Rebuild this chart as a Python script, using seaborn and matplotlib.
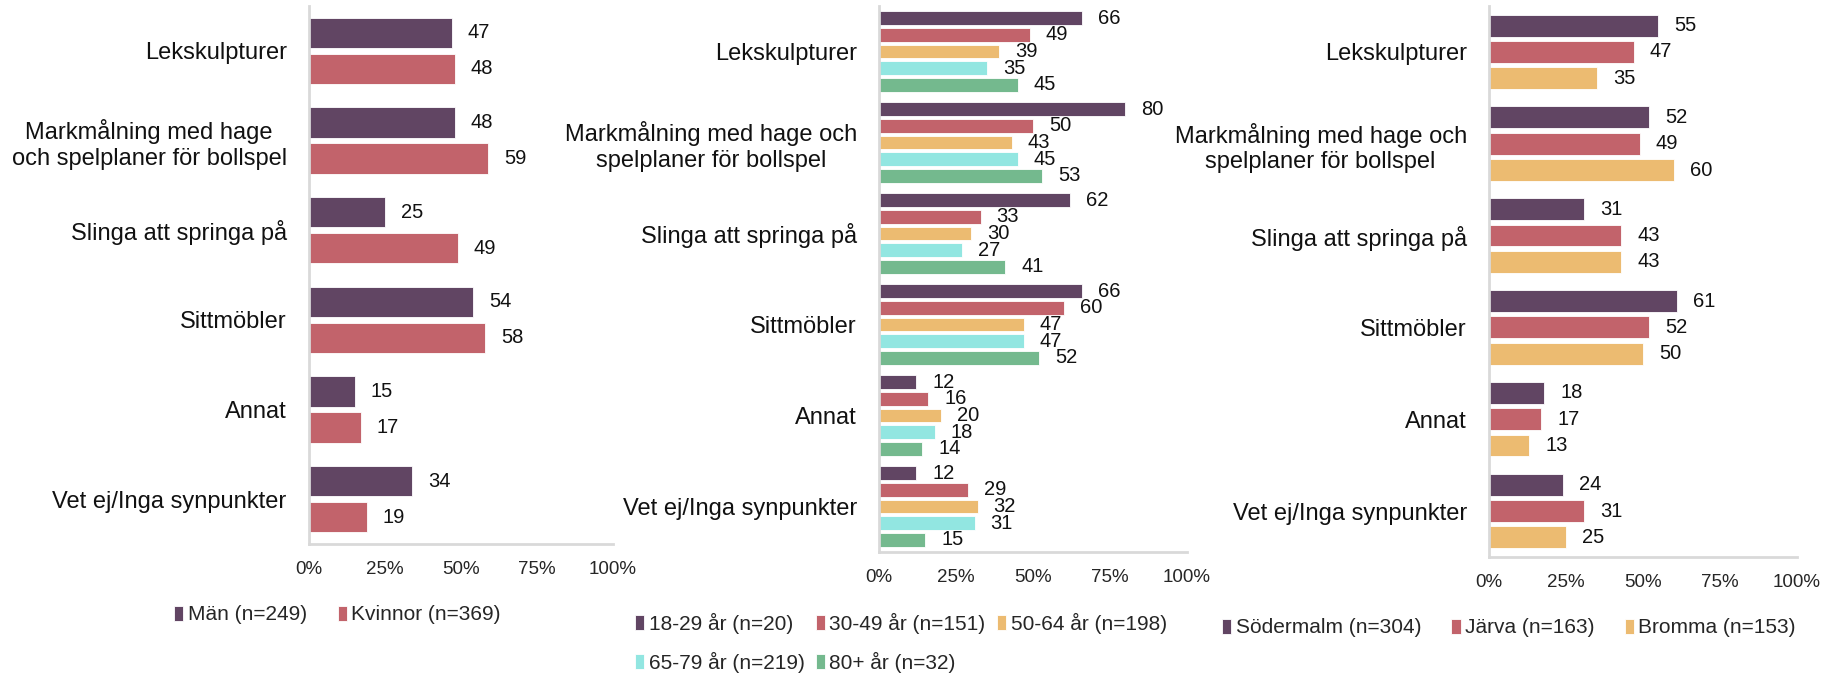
import numpy as np
import pandas as pd
import matplotlib
matplotlib.use('Agg')
import matplotlib.pyplot as plt
import seaborn as sns

# answer categories (same order in all three panels)
cats_1 = ['Lekskulpturer', 'Markmålning med hage\noch spelplaner för bollspel',
          'Slinga att springa på', 'Sittmöbler', 'Annat', 'Vet ej/Inga synpunkter']
cats_2 = ['Lekskulpturer', 'Markmålning med hage och\nspelplaner för bollspel',
          'Slinga att springa på', 'Sittmöbler', 'Annat', 'Vet ej/Inga synpunkter']

# panel 1 - gender
gender_groups = ['Män (n=249)', 'Kvinnor (n=369)']
man = [47, 48, 25, 54, 15, 34]
kvinnor = [48, 59, 49, 58, 17, 19]

# panel 2 - age
age_groups = ['18-29 år (n=20)', '30-49 år (n=151)', '50-64 år (n=198)',
              '65-79 år (n=219)', '80+ år (n=32)']
age_18_29 = [66, 80, 62, 66, 12, 12]
age_30_49 = [49, 50, 33, 60, 16, 29]
age_50_64 = [39, 43, 30, 47, 20, 32]
age_65_79 = [35, 45, 27, 47, 18, 31]
age_80 = [45, 53, 41, 52, 14, 15]

# panel 3 - district
area_groups = ['Södermalm (n=304)', 'Järva (n=163)', 'Bromma (n=153)']
sodermalm = [55, 52, 31, 61, 18, 24]
jarva = [47, 49, 43, 52, 17, 31]
bromma = [35, 60, 43, 50, 13, 25]

colors = ['#614563', '#c2636b', '#ecbb71', '#92e6e1', '#74b98e']


def long_df(cats, groups, series):
    rows = []
    for g, vals in zip(groups, series):
        for c, v in zip(cats, vals):
            rows.append({'cat': c, 'group': g, 'value': v})
    return pd.DataFrame(rows)


def row_major(items, ncol):
    # matplotlib fills legend columns first; reorder so entries read row by row
    nrow = int(np.ceil(len(items) / ncol))
    out = []
    for c in range(ncol):
        for r in range(nrow):
            i = r * ncol + c
            if i < len(items):
                out.append(items[i])
    return out


sns.set_style('white')
plt.rcParams['font.family'] = ['Liberation Sans', 'DejaVu Sans']

fig = plt.figure(figsize=(18.41, 6.73), dpi=100)

panels = [
    (cats_1, gender_groups, [man, kvinnor], [0.1678, 0.1917, 0.1651, 0.7994], 0.8, 0.15,
     (0.0945, 0.0862), 2, 1.5),
    (cats_2, age_groups, [age_18_29, age_30_49, age_50_64, age_65_79, age_80],
     [0.4775, 0.1798, 0.1673, 0.8113], 0.91, 0.16, (0.3449, 0.0446), 3, 0.55),
    (cats_2, area_groups, [sodermalm, jarva, bromma], [0.8088, 0.1724, 0.1673, 0.8187], 0.86, 0.17,
     (0.6638, 0.0669), 3, 1.45),
]

for cats, groups, series, pos, w, gap, leg_xy, ncol, colsp in panels:
    ax = fig.add_axes(pos)
    df = long_df(cats, groups, series)
    sns.barplot(data=df, y='cat', x='value', hue='group', orient='h',
                palette=colors[:len(groups)], saturation=1, width=w, gap=gap,
                edgecolor='white', linewidth=0.6, ax=ax)
    for cont in ax.containers:
        ax.bar_label(cont, fmt='%d', padding=11.5, fontsize=14.5, color='#111111')
    ax.set_xlim(0, 100)
    ax.set_xticks([0, 25, 50, 75, 100])
    ax.set_xticklabels(['0%', '25%', '50%', '75%', '100%'])
    ax.set_xlabel('')
    ax.set_ylabel('')
    ax.tick_params(axis='x', length=0, pad=12, labelsize=13.5, labelcolor='#262626')
    ax.tick_params(axis='y', length=0, pad=16, labelsize=17, labelcolor='#111111')
    for t in ax.get_yticklabels():
        t.set_multialignment('center')
    for s in ['top', 'right']:
        ax.spines[s].set_visible(False)
    for s in ['left', 'bottom']:
        ax.spines[s].set_color('#d9d9d9')
        ax.spines[s].set_linewidth(2)
    handles, labels = ax.get_legend_handles_labels()
    if ax.get_legend() is not None:
        ax.get_legend().remove()
    fig.legend(row_major(handles, ncol), row_major(labels, ncol), loc='center left',
               bbox_to_anchor=leg_xy, bbox_transform=fig.transFigure, ncol=ncol,
               frameon=False, fontsize=15, handlelength=0.45, handleheight=0.75,
               handletextpad=0.2, columnspacing=colsp, labelspacing=0.85,
               borderpad=0, borderaxespad=0)

plt.savefig('out.png', dpi=100)
